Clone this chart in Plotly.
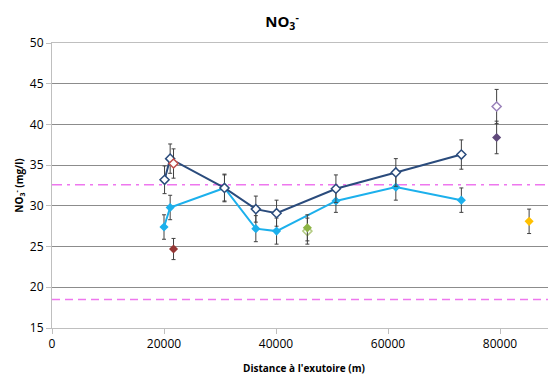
import plotly.graph_objects as go

# Main series (distance in m, NO3- in mg/l)
dist_dark = [20100, 21100, 30800, 36400, 40100, 50700, 61400, 73100]
no3_dark = [33.2, 35.8, 32.2, 29.6, 29.1, 32.1, 34.1, 36.3]
err_dark = [1.7, 1.8, 1.7, 1.6, 1.6, 1.7, 1.7, 1.8]

dist_light = [20000, 21100, 30800, 36400, 40100, 50700, 61400, 73100]
no3_light = [27.4, 29.8, 32.2, 27.2, 26.9, 30.6, 32.3, 30.7]
err_light = [1.5, 1.5, 1.6, 1.6, 1.6, 1.4, 1.6, 1.5]

# Isolated stations
dist_red = [21700]
no3_red_open = [35.2]
err_red_open = [1.8]
no3_red_fill = [24.7]
err_red_fill = [1.3]

dist_green = [45600]
no3_green_fill = [27.3]
no3_green_open = [26.9]
err_green = [1.6]

dist_purple = [79400]
no3_purple_open = [42.2]
err_purple_open = [2.1]
no3_purple_fill = [38.4]
err_purple_fill = [2.0]

dist_yellow = [85200]
no3_yellow = [28.1]
err_yellow = [1.5]

# Threshold lines
upper_threshold = 32.6
lower_threshold = 18.5

x_ticks = [0, 20000, 40000, 60000, 80000]
y_ticks = [15, 20, 25, 30, 35, 40, 45, 50]

ERR_COLOR = "#404040"
MS = 7

def err(vals):
    return dict(type="data", array=vals, visible=True, color=ERR_COLOR, thickness=1, width=2)

fig = go.Figure()

fig.add_trace(go.Scatter(
    x=dist_light, y=no3_light, mode="lines+markers",
    line=dict(color="#1CB0EC", width=2),
    marker=dict(symbol="diamond", size=MS, color="#1CB0EC"),
    error_y=err(err_light), showlegend=False))

fig.add_trace(go.Scatter(
    x=dist_dark, y=no3_dark, mode="lines+markers",
    line=dict(color="#2A4B7C", width=2),
    marker=dict(symbol="diamond", size=MS, color="white", line=dict(color="#2A4B7C", width=1.5)),
    error_y=err(err_dark), showlegend=False))

fig.add_trace(go.Scatter(
    x=dist_red, y=no3_red_open, mode="markers",
    marker=dict(symbol="diamond", size=MS, color="white", line=dict(color="#C0504D", width=1.5)),
    error_y=err(err_red_open), showlegend=False))
fig.add_trace(go.Scatter(
    x=dist_red, y=no3_red_fill, mode="markers",
    marker=dict(symbol="diamond", size=MS, color="#953735"),
    error_y=err(err_red_fill), showlegend=False))

fig.add_trace(go.Scatter(
    x=dist_green, y=no3_green_open, mode="markers",
    marker=dict(symbol="diamond", size=MS, color="white", line=dict(color="#B5CC85", width=1.5)),
    error_y=err(err_green), showlegend=False))
fig.add_trace(go.Scatter(
    x=dist_green, y=no3_green_fill, mode="markers",
    marker=dict(symbol="diamond", size=MS, color="#8DB445"),
    error_y=err(err_green), showlegend=False))

fig.add_trace(go.Scatter(
    x=dist_purple, y=no3_purple_open, mode="markers",
    marker=dict(symbol="diamond", size=MS, color="white", line=dict(color="#9A82BA", width=1.5)),
    error_y=err(err_purple_open), showlegend=False))
fig.add_trace(go.Scatter(
    x=dist_purple, y=no3_purple_fill, mode="markers",
    marker=dict(symbol="diamond", size=MS, color="#604A7B"),
    error_y=err(err_purple_fill), showlegend=False))

fig.add_trace(go.Scatter(
    x=dist_yellow, y=no3_yellow, mode="markers",
    marker=dict(symbol="diamond", size=MS, color="#FFC000"),
    error_y=err(err_yellow), showlegend=False))

fig.add_hline(y=upper_threshold, line=dict(color="#EE77EE", width=1.5, dash="10px,5px,3px,5px"), layer="below")
fig.add_hline(y=lower_threshold, line=dict(color="#EE77EE", width=1.5, dash="8px,5px"), layer="below")

FONT = "Open Sans"

fig.update_layout(
    width=548, height=371,
    margin=dict(l=44, r=0, t=35, b=51, autoexpand=False),
    paper_bgcolor="white", plot_bgcolor="white",
    font=dict(family=FONT, color="#000000"),
    title=dict(text="<b>NO<sub>3</sub><sup>-</sup></b>", x=0.5, xanchor="center",
               y=0.962, yanchor="middle", font=dict(size=15, family=FONT, color="#000")),
)

fig.update_xaxes(
    range=[0, 90000], tickvals=x_ticks, ticktext=[str(v) for v in x_ticks],
    automargin=False,
    showgrid=False, showline=True, linecolor="#BFBFBF", linewidth=1, mirror=True,
    ticks="outside", ticklen=5, tickcolor="#BFBFBF",
    tickfont=dict(size=12, family=FONT), zeroline=False,
    title=dict(text="<b>Distance à l'exutoire (m)</b>", font=dict(size=10, family=FONT), standoff=13),
)
fig.update_yaxes(
    range=[15, 50], tickvals=y_ticks, ticktext=[str(v) for v in y_ticks],
    automargin=False,
    showgrid=True, gridcolor="#8C8C8C", gridwidth=1,
    showline=True, linecolor="#BFBFBF", linewidth=1,
    ticks="outside", ticklen=5, tickcolor="#BFBFBF",
    tickfont=dict(size=12, family=FONT), zeroline=False,
    title=dict(text="<b>NO<sub>3</sub><sup>-</sup> (mg/l)</b>", font=dict(size=10, family=FONT), standoff=4),
)

fig.write_html("out.html")
